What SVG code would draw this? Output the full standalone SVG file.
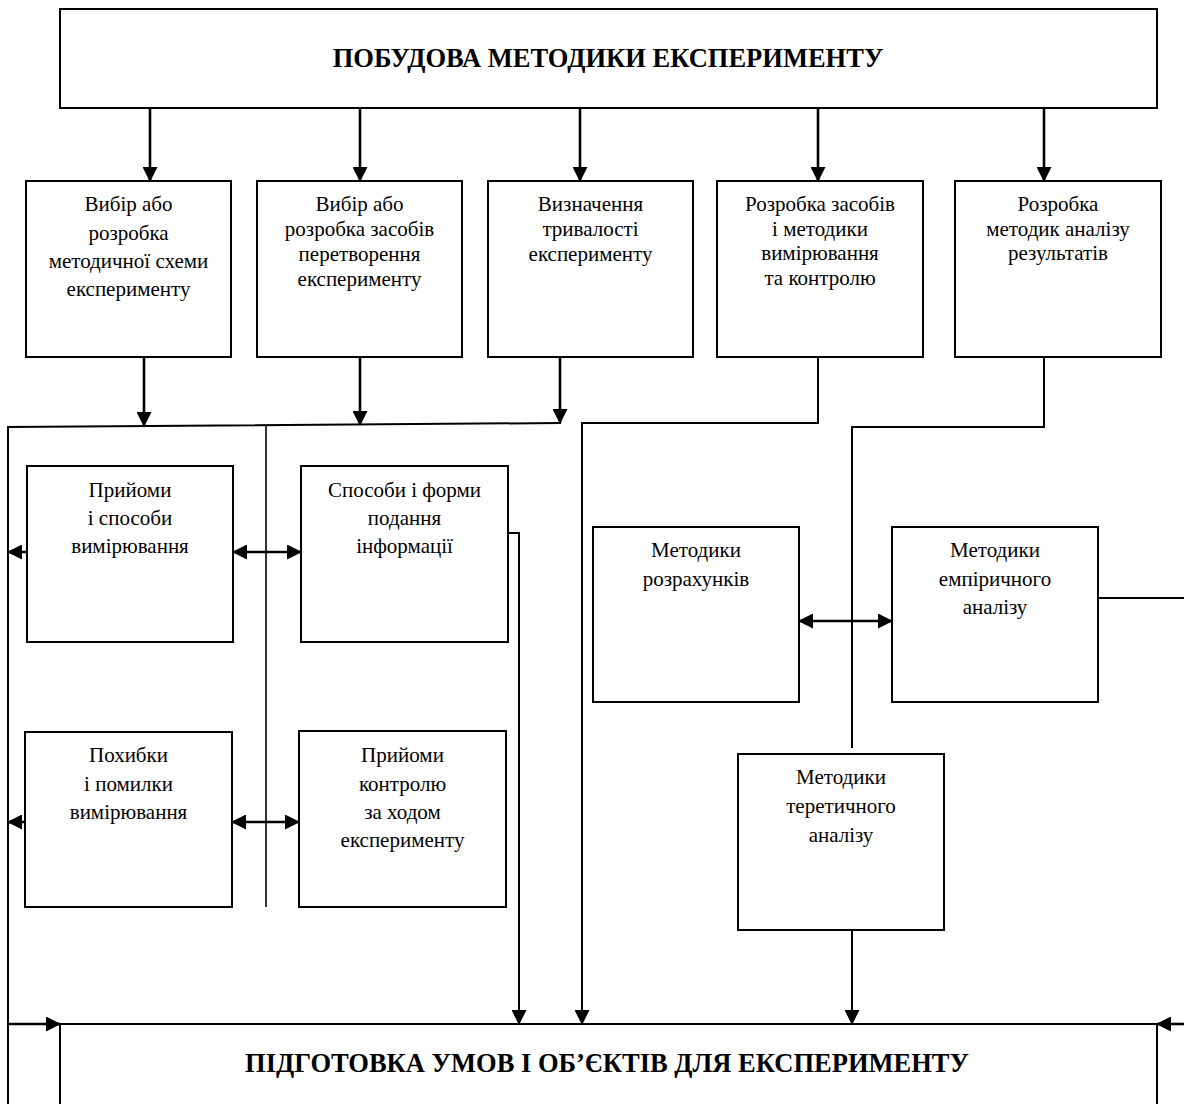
<svg xmlns="http://www.w3.org/2000/svg" width="1184" height="1104" viewBox="0 0 1184 1104">
<style>
.box{fill:#fff;stroke:#000;stroke-width:2}
.ln{fill:none;stroke:#000;stroke-width:2}
.ar{fill:none;stroke:#000;stroke-width:2.6}
.thin{fill:none;stroke:#000;stroke-width:1.6}
.t{font-family:"Liberation Serif","Times New Roman",serif;font-size:21px;text-anchor:middle;fill:#000}
.h{font-family:"Liberation Serif","Times New Roman",serif;font-size:26.5px;font-weight:bold;text-anchor:middle;fill:#000}
</style>
<defs>
<marker id="ar" markerUnits="userSpaceOnUse" markerWidth="15" markerHeight="15" refX="14" refY="7.5" orient="auto-start-reverse">
<path d="M0,0 L15,7.5 L0,15 z" fill="#000"/>
</marker>
</defs>
<rect width="1184" height="1104" fill="#fff"/>

<g id="connectors">
<path class="ar" d="M150,108 V181" marker-end="url(#ar)"/>
<path class="ar" d="M360,108 V181" marker-end="url(#ar)"/>
<path class="ar" d="M580,108 V181" marker-end="url(#ar)"/>
<path class="ar" d="M818,108 V181" marker-end="url(#ar)"/>
<path class="ar" d="M1044,108 V181" marker-end="url(#ar)"/>

<path class="ar" d="M144,357 V426" marker-end="url(#ar)"/>
<path class="ar" d="M360,357 V425" marker-end="url(#ar)"/>
<path class="ar" d="M560,357 V423" marker-end="url(#ar)"/>
<path class="ln" d="M8,1104 V427 L561,423"/>
<path class="thin" d="M266,426 V907"/>

<path class="ar" d="M27,552 H8" marker-end="url(#ar)"/>
<path class="ar" d="M233,552 H301" marker-start="url(#ar)" marker-end="url(#ar)"/>
<path class="ar" d="M25,822 H8" marker-end="url(#ar)"/>
<path class="ar" d="M232,822 H299" marker-start="url(#ar)" marker-end="url(#ar)"/>

<path class="ln" d="M508,533 H519 V1024" marker-end="url(#ar)"/>
<path class="ln" d="M818,357 V423 H582 V1024" marker-end="url(#ar)"/>
<path class="ln" d="M1044,357 V427 H852 V748"/>
<path class="ar" d="M799,621 H892" marker-start="url(#ar)" marker-end="url(#ar)"/>
<path class="ln" d="M1098,598 H1184"/>
<path class="ln" d="M852,930 V1024" marker-end="url(#ar)"/>
<path class="ar" d="M8,1024 H60" marker-end="url(#ar)"/>
<path class="ar" d="M1184,1024 H1157" marker-end="url(#ar)"/>
</g>

<g id="n-top">
<rect class="box" x="60" y="9" width="1097" height="99"/>
<text class="h" x="608" y="67">ПОБУДОВА МЕТОДИКИ ЕКСПЕРИМЕНТУ</text>
</g>

<g id="n-b1">
<rect class="box" x="26" y="181" width="205" height="176"/>
<text class="t" x="128.5" y="211">Вибір або</text>
<text class="t" x="128.5" y="239.5">розробка</text>
<text class="t" x="128.5" y="268">методичної схеми</text>
<text class="t" x="128.5" y="296">експерименту</text>
</g>

<g id="n-b2">
<rect class="box" x="257" y="181" width="205" height="176"/>
<text class="t" x="359.5" y="211">Вибір або</text>
<text class="t" x="359.5" y="236">розробка засобів</text>
<text class="t" x="359.5" y="261">перетворення</text>
<text class="t" x="359.5" y="286">експерименту</text>
</g>

<g id="n-b3">
<rect class="box" x="488" y="181" width="205" height="176"/>
<text class="t" x="590.5" y="211">Визначення</text>
<text class="t" x="590.5" y="236">тривалості</text>
<text class="t" x="590.5" y="261">експерименту</text>
</g>

<g id="n-b4">
<rect class="box" x="717" y="181" width="206" height="176"/>
<text class="t" x="820" y="211">Розробка засобів</text>
<text class="t" x="820" y="235.5">і методики</text>
<text class="t" x="820" y="260">вимірювання</text>
<text class="t" x="820" y="284.5">та контролю</text>
</g>

<g id="n-b5">
<rect class="box" x="955" y="181" width="206" height="176"/>
<text class="t" x="1058" y="211">Розробка</text>
<text class="t" x="1058" y="235.5">методик аналізу</text>
<text class="t" x="1058" y="260">результатів</text>
</g>

<g id="n-m1">
<rect class="box" x="27" y="466" width="206" height="176"/>
<text class="t" x="130" y="497">Прийоми</text>
<text class="t" x="130" y="525">і способи</text>
<text class="t" x="130" y="553">вимірювання</text>
</g>

<g id="n-m2">
<rect class="box" x="301" y="466" width="207" height="176"/>
<text class="t" x="404.5" y="497">Способи і форми</text>
<text class="t" x="404.5" y="525">подання</text>
<text class="t" x="404.5" y="553">інформації</text>
</g>

<g id="n-m3">
<rect class="box" x="25" y="732" width="207" height="175"/>
<text class="t" x="128.5" y="762">Похибки</text>
<text class="t" x="128.5" y="790.5">і помилки</text>
<text class="t" x="128.5" y="819">вимірювання</text>
</g>

<g id="n-m4">
<rect class="box" x="299" y="731" width="207" height="176"/>
<text class="t" x="402.5" y="762">Прийоми</text>
<text class="t" x="402.5" y="790.5">контролю</text>
<text class="t" x="402.5" y="819">за ходом</text>
<text class="t" x="402.5" y="847">експерименту</text>
</g>

<g id="n-r1">
<rect class="box" x="593" y="527" width="206" height="175"/>
<text class="t" x="696" y="557">Методики</text>
<text class="t" x="696" y="586">розрахунків</text>
</g>

<g id="n-r2">
<rect class="box" x="892" y="527" width="206" height="175"/>
<text class="t" x="995" y="557">Методики</text>
<text class="t" x="995" y="586">емпіричного</text>
<text class="t" x="995" y="614">аналізу</text>
</g>

<g id="n-r3">
<rect class="box" x="738" y="754" width="206" height="176"/>
<text class="t" x="841" y="784">Методики</text>
<text class="t" x="841" y="813">теретичного</text>
<text class="t" x="841" y="842">аналізу</text>
</g>

<g id="n-bottom">
<rect class="box" x="60" y="1024" width="1097" height="110"/>
<text class="h" x="607" y="1072">ПІДГОТОВКА УМОВ І ОБ’ЄКТІВ ДЛЯ ЕКСПЕРИМЕНТУ</text>
</g>
</svg>
